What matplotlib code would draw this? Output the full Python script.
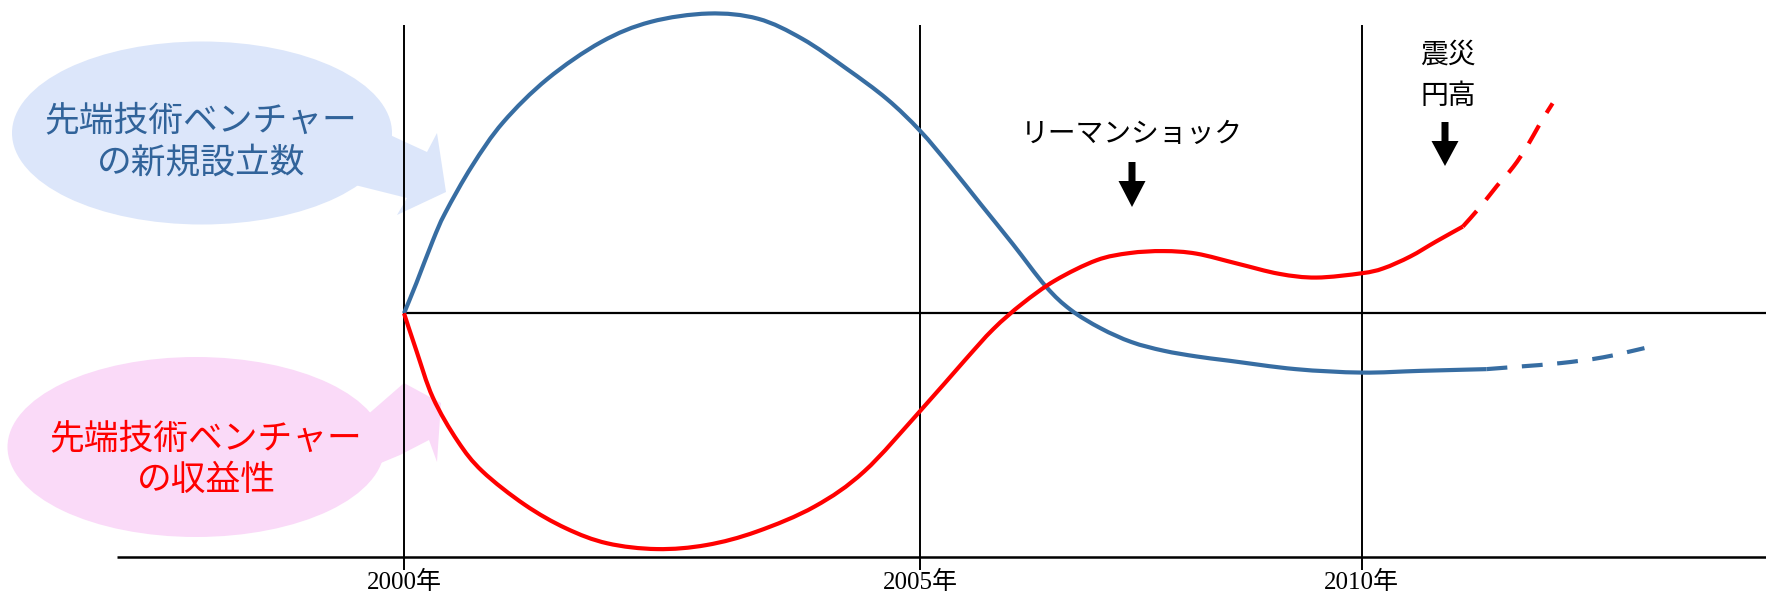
import matplotlib.pyplot as plt
from matplotlib.patches import Ellipse, Polygon, PathPatch
from matplotlib.path import Path
import matplotlib.transforms as mtransforms

plt.rcParams['font.family'] = ['Noto Sans CJK JP', 'DejaVu Sans']

# x = years after 2000 (position on the drawing), y = index (0 = middle line)
tick_pos = [0, 5, 9.28]
tick_labels = ["2000年", "2005年", "2010年"]

blue_t = [0, 0.12, 0.28, 0.40, 0.66, 0.96, 1.39, 1.91, 2.39, 2.95, 3.43, 3.86, 4.29, 4.68,
          5.0, 5.29, 5.59, 5.90, 6.22, 6.46, 6.75, 7.05, 7.36, 7.68, 8.0, 8.64, 9.28, 9.85, 10.49]
blue_y = [0, 1.05, 2.53, 3.49, 5.12, 6.63, 8.14, 9.42, 10.12, 10.41, 10.23, 9.53, 8.49, 7.44,
          6.34, 5.12, 3.78, 2.40, 0.93, 0.12, -0.52, -1.0, -1.30, -1.50, -1.65, -1.94, -2.06, -2.0, -1.94]
blue_dash_t = [10.49, 10.81, 11.21, 11.62, 12.02]
blue_dash_y = [-1.94, -1.85, -1.73, -1.53, -1.21]

red_t = [0, 0.12, 0.28, 0.52, 0.76, 1.17, 1.57, 1.97, 2.45, 2.93, 3.42, 3.98, 4.46, 5.0,
         5.43, 5.71, 5.99, 6.31, 6.71, 7.03, 7.36, 7.68, 8.08, 8.48, 8.84, 9.28, 9.49, 9.75, 10.0, 10.26]
red_y = [0, -1.30, -2.93, -4.44, -5.49, -6.65, -7.47, -7.99, -8.19, -8.05, -7.58, -6.71, -5.49, -3.40,
         -1.65, -0.55, 0.33, 1.14, 1.84, 2.09, 2.16, 2.07, 1.72, 1.37, 1.24, 1.39, 1.56, 1.97, 2.49, 3.01]
red_dash_t = [10.26, 10.43, 10.59, 10.75, 10.88, 11.01, 11.13]
red_dash_y = [3.01, 3.70, 4.42, 5.09, 5.78, 6.60, 7.29]

blue = '#376DA2'
red = '#FF0000'

W, H = 1766, 594
fig = plt.figure(figsize=(W / 100, H / 100), dpi=100)
ax = fig.add_axes([0, 0, 1, 1])
ax.set_xlim(-3.915, 13.198)
ax.set_ylim(-9.75, 10.88)
ax.axis('off')


def smooth_line(xs, ys, **kw):
    # smoothed line through the points (like Excel's smoothed line)
    pts = list(zip(xs, ys))
    n = len(pts)
    verts = [pts[0]]
    codes = [Path.MOVETO]
    for i in range(n - 1):
        p0 = pts[max(i - 1, 0)]
        p1 = pts[i]
        p2 = pts[i + 1]
        p3 = pts[min(i + 2, n - 1)]
        c1 = (p1[0] + (p2[0] - p0[0]) / 6, p1[1] + (p2[1] - p0[1]) / 6)
        c2 = (p2[0] - (p3[0] - p1[0]) / 6, p2[1] - (p3[1] - p1[1]) / 6)
        verts += [c1, c2, p2]
        codes += [Path.CURVE4] * 3
    ax.add_patch(PathPatch(Path(verts, codes), fill=False, capstyle='butt', zorder=3, **kw))


# pixel coordinates (origin top left) for the callouts
pix = mtransforms.Affine2D().scale(1, -1).translate(0, H)

# callout bubbles
ax.add_patch(Ellipse((202, 133), 380, 183, transform=pix, facecolor='#DCE6FA', edgecolor='none', zorder=0))
ax.add_patch(Polygon([(340, 112), (427, 152), (437, 133), (446, 192), (397, 215), (407, 198), (335, 180)],
                     transform=pix, facecolor='#DCE6FA', edgecolor='none', zorder=0))
ax.add_patch(Ellipse((196, 447), 377, 180, transform=pix, facecolor='#FADAF8', edgecolor='none', zorder=0))
ax.add_patch(Polygon([(350, 430), (404, 383), (441, 403), (437, 462), (429, 440), (400, 455), (340, 480)],
                     transform=pix, facecolor='#FADAF8', edgecolor='none', zorder=0))
ax.text(201, 142, "先端技術ベンチャー\nの新規設立数", transform=pix, ha='center', va='center',
        multialignment='center', fontsize=25, color='#31639A', linespacing=1.3)
ax.text(206, 460, "先端技術ベンチャー\nの収益性", transform=pix, ha='center', va='center',
        multialignment='center', fontsize=25, color=red, linespacing=1.25)

# frame lines
ax.vlines(tick_pos, -8.91, 10.01, color='black', lw=1.4, zorder=1)
ax.hlines(0, 0, 13.3, color='black', lw=1.6, zorder=1)
ax.hlines(-8.45, -2.78, 13.3, color='black', lw=1.8, zorder=1)
for p, lab in zip(tick_pos, tick_labels):
    ax.text(p, -9.57, lab, ha='center', va='baseline', fontsize=18,
            family=['Liberation Serif', 'Noto Sans CJK JP'])

# curves
smooth_line(blue_t, blue_y, edgecolor=blue, lw=3)
smooth_line(blue_dash_t, blue_dash_y, edgecolor=blue, lw=3, linestyle=(0, (5, 3.5)))
smooth_line(red_t, red_y, edgecolor=red, lw=3)
smooth_line(red_dash_t, red_dash_y, edgecolor=red, lw=3, linestyle=(0, (5, 3.5)))


# event labels and arrows
def down_arrow(x, y0, y1, y2):
    pts = [(x - 3.5, y0), (x + 3.5, y0), (x + 3.5, y1), (x + 13.5, y1), (x, y2), (x - 13.5, y1), (x - 3.5, y1)]
    ax.add_patch(Polygon(pts, transform=pix, facecolor='black', edgecolor='none', zorder=4))


ax.text(1132, 134, "リーマンショック", transform=pix, ha='center', va='center', fontsize=20)
down_arrow(1132, 162, 181, 207)
ax.text(1448, 55, "震災", transform=pix, ha='center', va='center', fontsize=20)
ax.text(1448, 96, "円高", transform=pix, ha='center', va='center', fontsize=20)
down_arrow(1445, 122, 141, 166)

fig.savefig("out.png", dpi=100)
